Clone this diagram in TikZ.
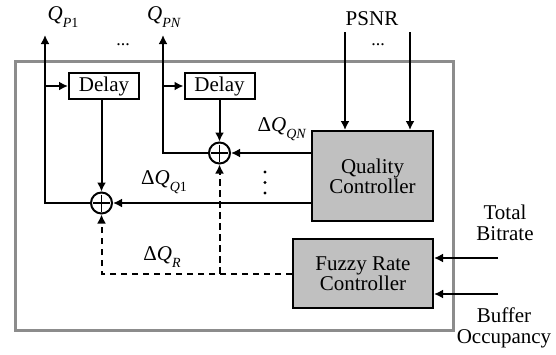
\documentclass[tikz,border=0pt]{standalone}
\usepackage{fontspec}
\setmainfont{Liberation Serif}
\usetikzlibrary{arrows.meta}
\definecolor{ctrlgray}{RGB}{192,192,192}
\definecolor{boxgray}{RGB}{140,140,140}
\newcommand{\subtxt}[1]{\raisebox{-0.32em}{\fontsize{14}{14}\selectfont #1}}
\begin{document}
\begin{tikzpicture}[x=1pt,y=-1pt, line width=2pt,
  every node/.style={font=\fontsize{21}{22}\selectfont},
  arr/.style={-{Latex[length=9pt,width=9pt]}},
  dsh/.style={dash pattern=on 6.5pt off 4.5pt},
  lbl/.style={inner sep=0pt, align=center},
  dotlbl/.style={inner sep=0pt, anchor=base, text height=3pt, text depth=0pt, font=\fontsize{18}{18}\selectfont},
  delaybox/.style={draw, fill=white, minimum width=70pt, minimum height=26pt, inner sep=0pt},
  ctrl/.style={draw, fill=ctrlgray, align=center, inner sep=0pt},
  sumnode/.style={circle, draw, minimum size=21pt, inner sep=0pt,
    path picture={\draw[line width=1.6pt] ([yshift=-2pt]path picture bounding box.north) -- ([yshift=2pt]path picture bounding box.south)
      ([xshift=2pt]path picture bounding box.west) -- ([xshift=-2pt]path picture bounding box.east);}}]
\useasboundingbox (0,0) rectangle (556,354);
% outer box
\draw[boxgray, line width=3pt] (15,61) rectangle (453,330);
% blocks
\node[delaybox] (d1) at (104,86) {Delay};
\node[delaybox] (d2) at (219.5,86) {Delay};
\node[sumnode] (s1) at (101.5,203) {};
\node[sumnode] (s2) at (219.5,153) {};
\node[ctrl, minimum width=121pt, minimum height=90pt] (qc) at (372.5,176) {Quality\\[-2pt]Controller};
\node[ctrl, minimum width=140pt, minimum height=69pt] (frc) at (363,273.5) {Fuzzy Rate\\[-2pt]Controller};
% free ends
\coordinate (o1) at (45,35);
\coordinate (oN) at (163,35);
\coordinate (p1) at (345,32);
\coordinate (p2) at (410,32);
\coordinate (tb) at (498,258);
\coordinate (bo) at (498,294);
% outputs
\draw[arr] (s1.west) -| (o1);
\draw[arr] (s2.west) -| (oN);
\draw[arr] (d1.west -| o1) -- (d1.west);
\draw[arr] (d2.west -| oN) -- (d2.west);
\draw[arr] (d1.south -| s1.north) -- (s1.north);
\draw[arr] (d2.south) -- (s2.north);
% quality controller outputs
\draw[arr] (qc.west |- s2) -- (s2.east);
\draw[arr] (qc.west |- s1) -- (s1.east);
% inputs
\draw[arr] (p1) -- (p1 |- qc.north);
\draw[arr] (p2) -- (p2 |- qc.north);
\draw[arr] (tb) -- (tb -| frc.east);
\draw[arr] (bo) -- (bo -| frc.east);
% dashed rate corrections
\draw[dsh, arr] (frc.west) -- (s1 |- frc.west) -- (s1.south);
\draw[dsh, arr] (s2 |- frc.west) -- (s2.south);
% vertical dots
\fill (265,172) circle (1.6pt) (265,182.5) circle (1.6pt) (265,193) circle (1.6pt);
% labels
\node[lbl] (lq1) at (63,17) {\textit{Q}\subtxt{\textit{P}1}};
\node[lbl] (lqn) at (164,17) {\textit{Q}\subtxt{\textit{PN}}};
\node[dotlbl] (dots1) at (123,45) {...};
\node[lbl, text depth=0pt] (lpsnr) at (372,19) {PSNR};
\node[dotlbl] (dots2) at (378,45) {...};
\node[lbl] (ldqn) at (282,129) {Δ\textit{Q}\subtxt{\textit{QN}}};
\node[lbl] (ldq1) at (164,182) {Δ\textit{Q}\subtxt{\textit{Q}1}};
\node[lbl] (ldqr) at (162,257) {Δ\textit{Q}\subtxt{\textit{R}}};
\node[lbl] (ltb) at (505,223) {Total\\[-1pt]Bitrate};
\node[lbl] (lbo) at (504,328) {Buffer\\[-1pt]Occupancy};
\end{tikzpicture}
\end{document}
